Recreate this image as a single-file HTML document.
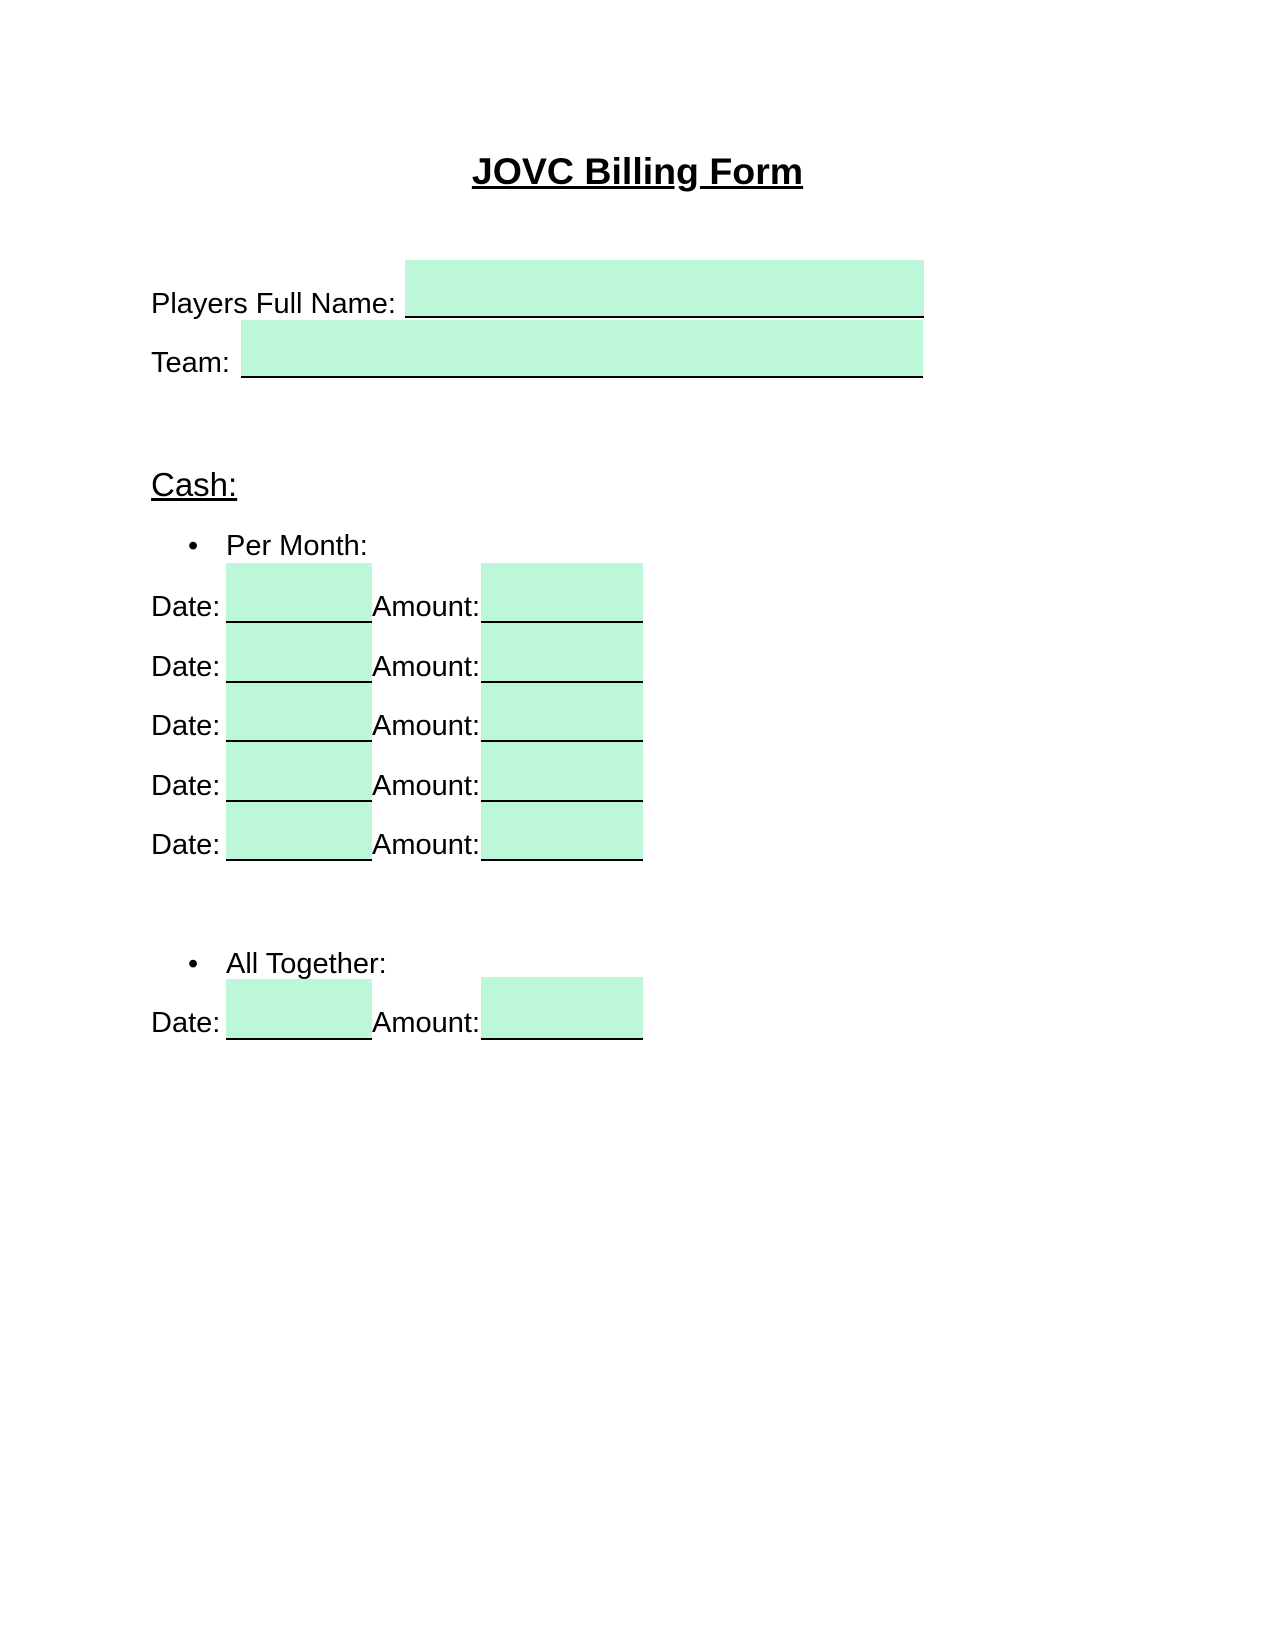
<!DOCTYPE html>
<html><head><meta charset="utf-8"><style>
html,body{margin:0;padding:0;background:#fff;}
body{width:1275px;height:1649px;position:relative;overflow:hidden;font-family:"Liberation Sans",Arial,sans-serif;color:#000;}
.t{position:absolute;white-space:nowrap;line-height:1;font-size:29px;}
.b{position:absolute;background:#bdf7da;border-bottom:2px solid #000;box-sizing:border-box;}
</style></head><body>
<div class="t" style="left:0;width:1275px;text-align:center;top:153px;font-size:37.5px;font-weight:bold;"><span style="text-decoration:underline;">JOVC Billing Form</span></div>

<div class="b" style="left:405px;top:260px;width:519px;height:58px;"></div>
<div class="t" style="left:151px;top:290px;">Players Full Name:</div>
<div class="b" style="left:241px;top:320px;width:682px;height:58px;"></div>
<div class="t" style="left:151px;top:349px;">Team:</div>

<div class="t" style="left:151px;top:468px;font-size:33px;text-decoration:underline;">Cash:</div>

<div class="t" style="left:188px;top:532px;">•</div>
<div class="t" style="left:226px;top:532px;">Per Month:</div>

<div class="b" style="left:226px;top:563px;width:146px;height:60px;"></div>
<div class="b" style="left:481px;top:563px;width:162px;height:60px;"></div>
<div class="t" style="left:151px;top:593px;">Date:</div>
<div class="t" style="left:372px;top:593px;">Amount:</div>

<div class="b" style="left:226px;top:623px;width:146px;height:60px;"></div>
<div class="b" style="left:481px;top:623px;width:162px;height:60px;"></div>
<div class="t" style="left:151px;top:653px;">Date:</div>
<div class="t" style="left:372px;top:653px;">Amount:</div>

<div class="b" style="left:226px;top:683px;width:146px;height:59px;"></div>
<div class="b" style="left:481px;top:683px;width:162px;height:59px;"></div>
<div class="t" style="left:151px;top:712px;">Date:</div>
<div class="t" style="left:372px;top:712px;">Amount:</div>

<div class="b" style="left:226px;top:742px;width:146px;height:60px;"></div>
<div class="b" style="left:481px;top:742px;width:162px;height:60px;"></div>
<div class="t" style="left:151px;top:772px;">Date:</div>
<div class="t" style="left:372px;top:772px;">Amount:</div>

<div class="b" style="left:226px;top:802px;width:146px;height:59px;"></div>
<div class="b" style="left:481px;top:802px;width:162px;height:59px;"></div>
<div class="t" style="left:151px;top:831px;">Date:</div>
<div class="t" style="left:372px;top:831px;">Amount:</div>

<div class="t" style="left:188px;top:950px;">•</div>
<div class="t" style="left:226px;top:950px;">All Together:</div>

<div class="b" style="left:226px;top:979px;width:146px;height:61px;"></div>
<div class="b" style="left:481px;top:977px;width:162px;height:63px;"></div>
<div class="t" style="left:151px;top:1009px;">Date:</div>
<div class="t" style="left:372px;top:1009px;">Amount:</div>
</body></html>
